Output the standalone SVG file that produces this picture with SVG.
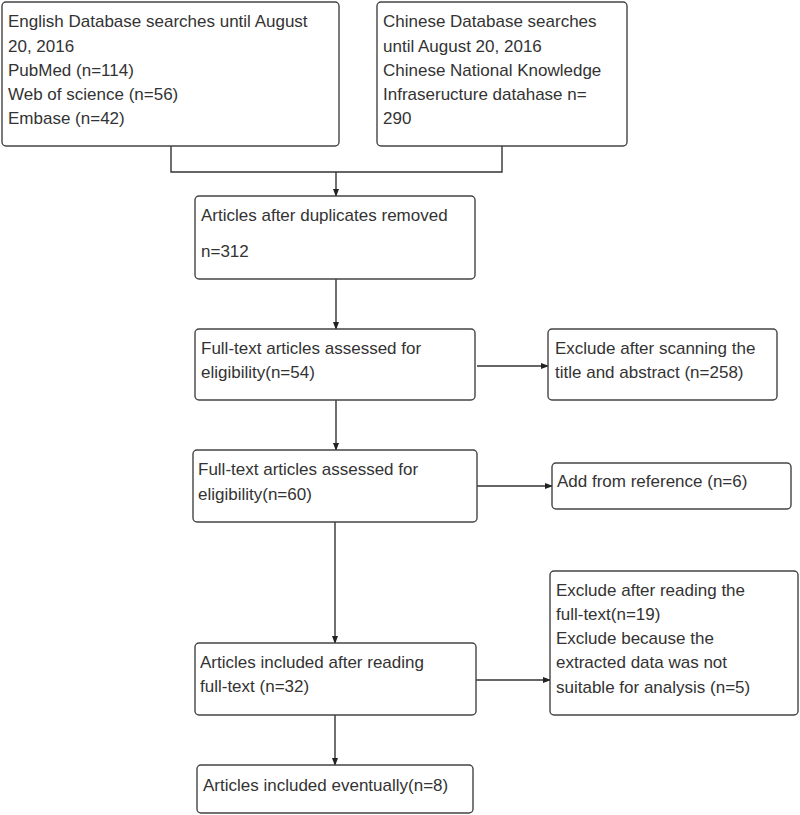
<svg xmlns="http://www.w3.org/2000/svg" width="800" height="815" viewBox="0 0 800 815">
<style>
.box{fill:#fff;stroke:#444;stroke-width:1.4}
.t{font-family:"Liberation Sans",Arial,sans-serif;font-size:17px;fill:#333}
.c{fill:none;stroke:#333;stroke-width:1.4}
</style>
<defs>
<marker id="ah" markerWidth="8" markerHeight="6" refX="7" refY="3" orient="auto" markerUnits="userSpaceOnUse">
<path d="M0,0 L8,3 L0,6 Z" fill="#222"/>
</marker>
</defs>
<rect width="800" height="815" fill="#fff"/>
<g id="connectors">
<path class="c" d="M171,146 V172 H502 V146"/>
<path class="c" d="M336,172 V196" marker-end="url(#ah)"/>
<path class="c" d="M336,279 V329" marker-end="url(#ah)"/>
<path class="c" d="M477,366 H548" marker-end="url(#ah)"/>
<path class="c" d="M336,400 V450" marker-end="url(#ah)"/>
<path class="c" d="M477,486 H552" marker-end="url(#ah)"/>
<path class="c" d="M335,522 V643" marker-end="url(#ah)"/>
<path class="c" d="M476,680 H550" marker-end="url(#ah)"/>
<path class="c" d="M335,715 V765" marker-end="url(#ah)"/>
</g>
<g id="english">
<rect class="box" x="2" y="2" width="337" height="144" rx="4"/>
<text class="t" x="8" y="27">English Database searches until August</text>
<text class="t" x="8" y="51.5">20, 2016</text>
<text class="t" x="8" y="76">PubMed (n=114)</text>
<text class="t" x="8" y="100">Web of science (n=56)</text>
<text class="t" x="8" y="124">Embase (n=42)</text>
</g>
<g id="chinese">
<rect class="box" x="377" y="2" width="250" height="144" rx="4"/>
<text class="t" x="383" y="27">Chinese Database searches</text>
<text class="t" x="383" y="51.5">until August 20, 2016</text>
<text class="t" x="383" y="76">Chinese National Knowledge</text>
<text class="t" x="383" y="100">Infraseructure datahase n=</text>
<text class="t" x="383" y="124">290</text>
</g>
<g id="dedup">
<rect class="box" x="195" y="196" width="280" height="83" rx="4"/>
<text class="t" x="201" y="221">Articles after duplicates removed</text>
<text class="t" x="201" y="257">n=312</text>
</g>
<g id="fulltext54">
<rect class="box" x="195" y="329" width="280" height="71" rx="4"/>
<text class="t" x="201" y="354">Full-text articles assessed for</text>
<text class="t" x="201" y="378">eligibility(n=54)</text>
</g>
<g id="exclude258">
<rect class="box" x="548" y="329" width="229" height="71" rx="4"/>
<text class="t" x="555" y="354">Exclude after scanning the</text>
<text class="t" x="555" y="378">title and abstract (n=258)</text>
</g>
<g id="fulltext60">
<rect class="box" x="193" y="450" width="284" height="72" rx="4"/>
<text class="t" x="198" y="475">Full-text articles assessed for</text>
<text class="t" x="198" y="500">eligibility(n=60)</text>
</g>
<g id="addref">
<rect class="box" x="552" y="463" width="239" height="46" rx="4"/>
<text class="t" x="557" y="487">Add from reference (n=6)</text>
</g>
<g id="included32">
<rect class="box" x="195" y="643" width="281" height="72" rx="4"/>
<text class="t" x="200" y="668">Articles included after reading</text>
<text class="t" x="200" y="692">full-text (n=32)</text>
</g>
<g id="exclude19">
<rect class="box" x="550" y="571" width="248" height="144" rx="4"/>
<text class="t" x="556" y="596">Exclude after reading the</text>
<text class="t" x="556" y="620">full-text(n=19)</text>
<text class="t" x="556" y="644">Exclude because the</text>
<text class="t" x="556" y="668">extracted data was not</text>
<text class="t" x="556" y="693">suitable for analysis (n=5)</text>
</g>
<g id="included8">
<rect class="box" x="197" y="765" width="276" height="48" rx="4"/>
<text class="t" x="203" y="791">Articles included eventually(n=8)</text>
</g>
</svg>
